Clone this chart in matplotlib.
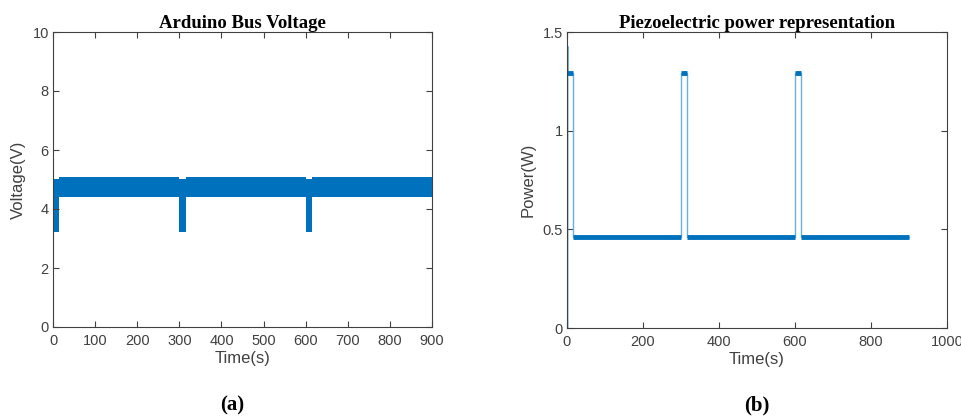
import matplotlib.pyplot as plt
import numpy as np

# --- data ---
# (a) voltage band envelope, step-wise (value holds until next time)
volt_t = [0, 15, 300, 316, 600, 616, 900]
volt_lo = [3.22, 4.40, 3.22, 4.40, 3.22, 4.40, 4.40]
volt_hi = [5.03, 5.08, 5.03, 5.08, 5.03, 5.08, 5.08]
volt_start_t = [0, 0]
volt_start_v = [0, 5.05]

# (b) piezo power steps
pow_t = [0, 0, 0, 15, 15, 300, 300, 315, 315, 600, 600, 615, 615, 900]
pow_w = [0, 1.43, 1.29, 1.29, 0.46, 0.46, 1.29, 1.29, 0.46, 0.46, 1.29, 1.29, 0.46, 0.46]
seg_t0 = [0, 15, 300, 315, 600, 615]
seg_t1 = [15, 300, 315, 600, 615, 900]
seg_w = [1.29, 0.46, 1.29, 0.46, 1.29, 0.46]

blue = '#0072BD'
light = '#6aaee6'
axcol = '#404040'

plt.rcParams['font.family'] = ['Liberation Sans', 'DejaVu Sans']

fig = plt.figure(figsize=(9.62, 4.16), dpi=100)
ax1 = fig.add_axes([53/962, 1-327/416, 379/962, 295/416])
ax2 = fig.add_axes([567/962, 1-328/416, 380/962, 296/416])

# left panel
ax1.fill_between(volt_t, volt_lo, volt_hi, step='post', color=blue, lw=0)
ax1.plot(volt_start_t, volt_start_v, color=blue, lw=1.2)
ax1.set_xlim(0, 900)
ax1.set_ylim(0, 10)
ax1.set_xticks(np.arange(0, 901, 100))
ax1.set_yticks([0, 2, 4, 6, 8, 10])
ax1.set_xlabel('Time(s)', fontsize=12, color=axcol, labelpad=2)
ax1.set_ylabel('Voltage(V)', fontsize=12, color=axcol, labelpad=5)
ax1.set_title('Arduino Bus Voltage', fontsize=13.5, fontweight='bold',
              family='Liberation Serif', pad=3)

# right panel
ax2.plot(pow_t, pow_w, color=light, lw=1.0)
ax2.plot(pow_t[:3], pow_w[:3], color=blue, lw=1.0)
for a, b, w in zip(seg_t0, seg_t1, seg_w):
    ax2.plot([a, b], [w, w], color=blue, lw=3.5, solid_capstyle='butt')
ax2.set_xlim(0, 1000)
ax2.set_ylim(0, 1.5)
ax2.set_xticks([0, 200, 400, 600, 800, 1000])
ax2.set_yticks([0, 0.5, 1, 1.5])
ax2.set_yticklabels(['0', '0.5', '1', '1.5'])
ax2.set_xlabel('Time(s)', fontsize=12, color=axcol, labelpad=2)
ax2.set_ylabel('Power(W)', fontsize=12, color=axcol, labelpad=5)
ax2.set_title('Piezoelectric power representation', fontsize=13.5, fontweight='bold',
              family='Liberation Serif', pad=3)

for ax in (ax1, ax2):
    for s in ax.spines.values():
        s.set_color(axcol)
        s.set_linewidth(0.8)
    ax.tick_params(direction='in', top=True, right=True, length=4, width=0.8,
                   colors=axcol, labelsize=10.5, pad=3)
    ax.tick_params(axis='x', pad=5)

fig.text(232/962, 1-405/416, '(a)', fontsize=15, fontweight='bold',
         family='Liberation Serif', ha='center', va='center')
fig.text(757/962, 1-405/416, '(b)', fontsize=15, fontweight='bold',
         family='Liberation Serif', ha='center', va='center')

fig.savefig('out.png', dpi=100)
